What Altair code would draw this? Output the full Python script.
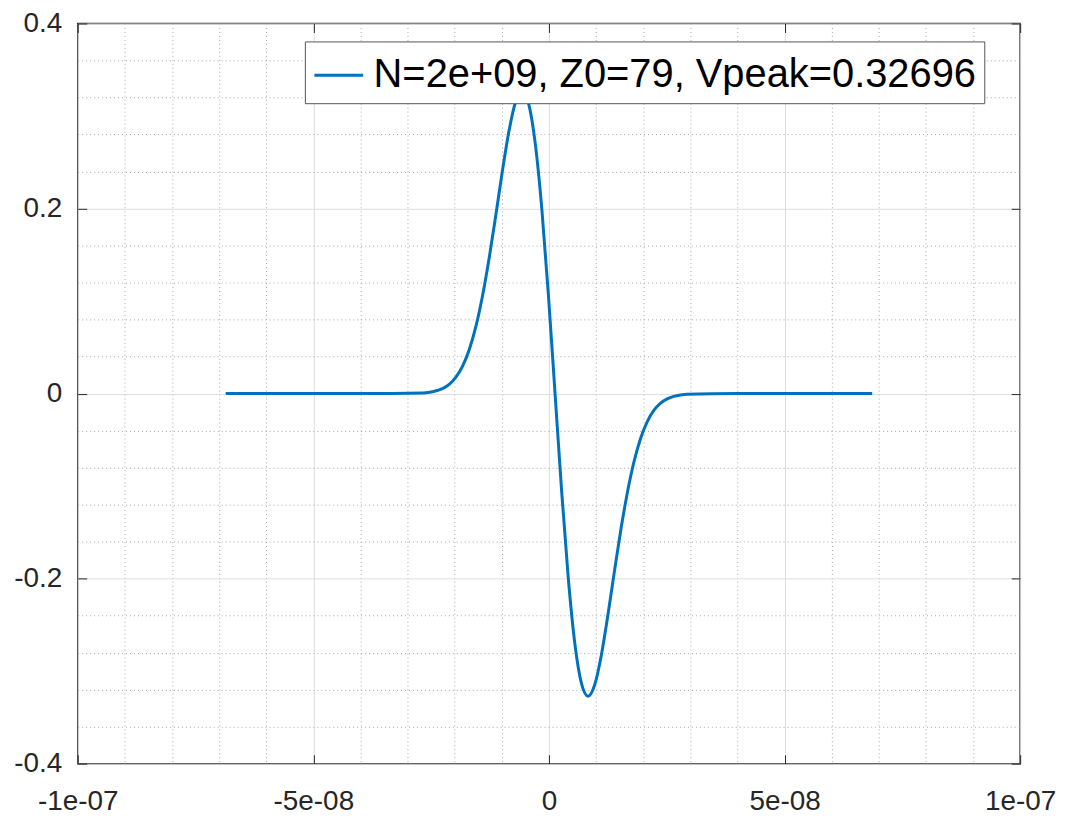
import altair as alt
import pandas as pd

# ---- data (time in ns, voltage) ----
t_ns = [-68.6, -40.0, -26.7, -25.3, -23.9, -22.5, -21.1, -19.7, -18.3, -16.9,
        -15.5, -14.1, -12.7, -11.3, -9.9, -8.5, -7.1, -5.7, -4.3, -2.9,
        -1.5, -0.1, 1.3, 2.7, 4.1, 5.5, 6.9, 8.3, 9.7, 11.1,
        12.5, 13.9, 15.3, 16.7, 18.1, 19.5, 20.9, 22.3, 23.7, 25.1,
        26.5, 27.9, 29.3, 40.0, 68.6]
volts = [0.0, 0.0, 0.0007, 0.0015, 0.0030, 0.0057, 0.0103, 0.0180, 0.0300, 0.0477,
         0.0726, 0.1055, 0.1459, 0.1920, 0.2398, 0.2833, 0.3149, 0.3270, 0.3132, 0.2702,
         0.1991, 0.1057, 0.0, -0.1057, -0.1991, -0.2702, -0.3132, -0.3270, -0.3149, -0.2833,
         -0.2398, -0.1920, -0.1459, -0.1055, -0.0726, -0.0477, -0.0300, -0.0180, -0.0103, -0.0057,
         -0.0030, -0.0015, -0.0007, 0.0, 0.0]
series_name = "N=2e+09, Z0=79, Vpeak=0.32696"

x_major = [-1e-07, -5e-08, 0, 5e-08, 1e-07]
x_major_labels = ["-1e-07", "-5e-08", "0", "5e-08", "1e-07"]
x_minor = [-9e-08, -8e-08, -7e-08, -6e-08, -4e-08, -3e-08, -2e-08, -1e-08,
           1e-08, 2e-08, 3e-08, 4e-08, 6e-08, 7e-08, 8e-08, 9e-08]
y_major = [-0.4, -0.2, 0, 0.2, 0.4]
y_major_labels = ["-0.4", "-0.2", "0", "0.2", "0.4"]
y_minor = [-0.36, -0.32, -0.28, -0.24, -0.16, -0.12, -0.08, -0.04,
           0.04, 0.08, 0.12, 0.16, 0.24, 0.28, 0.32, 0.36]

df = pd.DataFrame({"t": [v * 1e-9 for v in t_ns], "v": volts, "s": series_name})

W, H = 946, 743
FONT = "Liberation Sans"
INK = "#262626"


def label_expr(values, labels):
    return "[" + ",".join("'%s'" % l for l in labels) + "][indexof([" + \
        ",".join(repr(v) for v in values) + "], datum.value)]"


xs = alt.Scale(domain=[-1e-07, 1e-07], nice=False, zero=False)
ys = alt.Scale(domain=[-0.4, 0.4], nice=False, zero=False)

base = alt.Chart(df)

common = dict(title=None, domain=False, labelFlush=False, labelOverlap=False)

# minor dotted grid
minor = base.mark_line(strokeOpacity=0).encode(
    x=alt.X("t:Q", scale=xs, axis=alt.Axis(values=x_minor, grid=True, gridDash=[1, 3],
                                          gridColor="#a8a8a8", gridWidth=1, labels=False,
                                          ticks=False, orient="bottom", **common)),
    y=alt.Y("v:Q", scale=ys, axis=alt.Axis(values=y_minor, grid=True, gridDash=[1, 3],
                                          gridColor="#a8a8a8", gridWidth=1, labels=False,
                                          ticks=False, orient="left", **common)),
)

# major grid + labels
major = base.mark_line(strokeOpacity=0).encode(
    x=alt.X("t:Q", scale=xs, axis=alt.Axis(values=x_major, grid=True, gridColor="#dedede",
                                          gridWidth=1, ticks=False, tickSize=0,
                                          labelPadding=24, labelFont=FONT, labelFontSize=28,
                                          labelColor=INK,
                                          labelExpr=label_expr(x_major, x_major_labels),
                                          orient="bottom", **common)),
    y=alt.Y("v:Q", scale=ys, axis=alt.Axis(values=y_major, grid=True, gridColor="#dedede",
                                          gridWidth=1, ticks=False, tickSize=0,
                                          labelPadding=16, labelFont=FONT, labelFontSize=28,
                                          labelColor=INK,
                                          labelExpr=label_expr(y_major, y_major_labels),
                                          orient="left", **common)),
)

# inward ticks on bottom and left edges
ticks_a = base.mark_line(strokeOpacity=0).encode(
    x=alt.X("t:Q", scale=xs, axis=alt.Axis(values=x_major, grid=False, labels=False, ticks=True,
                                          tickSize=9, tickColor=INK, tickWidth=1,
                                          orient="top", offset=-H, **common)),
    y=alt.Y("v:Q", scale=ys, axis=alt.Axis(values=y_major, grid=False, labels=False, ticks=True,
                                          tickSize=9, tickColor=INK, tickWidth=1,
                                          orient="right", offset=-W, **common)),
)

# inward ticks on top and right edges
ticks_b = base.mark_line(strokeOpacity=0).encode(
    x=alt.X("t:Q", scale=xs, axis=alt.Axis(values=x_major, grid=False, labels=False, ticks=True,
                                          tickSize=9, tickColor=INK, tickWidth=1,
                                          orient="bottom", offset=-H, **common)),
    y=alt.Y("v:Q", scale=ys, axis=alt.Axis(values=y_major, grid=False, labels=False, ticks=True,
                                          tickSize=9, tickColor=INK, tickWidth=1,
                                          orient="left", offset=-W, **common)),
)

line = base.mark_line(strokeWidth=3, interpolate="monotone").encode(
    x=alt.X("t:Q", scale=xs, axis=None),
    y=alt.Y("v:Q", scale=ys, axis=None),
    color=alt.Color("s:N", scale=alt.Scale(range=["#0072BD"]),
                    legend=alt.Legend(title=None, orient="none", legendX=228, legendY=18,
                                      symbolType="stroke", symbolSize=2401,
                                      symbolStrokeWidth=3, labelFont=FONT,
                                      labelFontSize=40, labelColor="#000000",
                                      labelLimit=0, labelOffset=9, padding=8,
                                      fillColor="#ffffff", strokeColor="#555555",
                                      cornerRadius=0)),
)

chart = alt.layer(minor, major, ticks_a, ticks_b, line).resolve_axis(
    x="independent", y="independent"
).properties(
    width=W, height=H,
    autosize=alt.AutoSizeParams(type="none"),
    padding={"left": 70, "top": 14, "right": 38, "bottom": 58},
    background="#ffffff",
).configure_view(stroke=INK, strokeWidth=1.5)

chart.save("out.html", embed_options={"renderer": "svg", "actions": False})
